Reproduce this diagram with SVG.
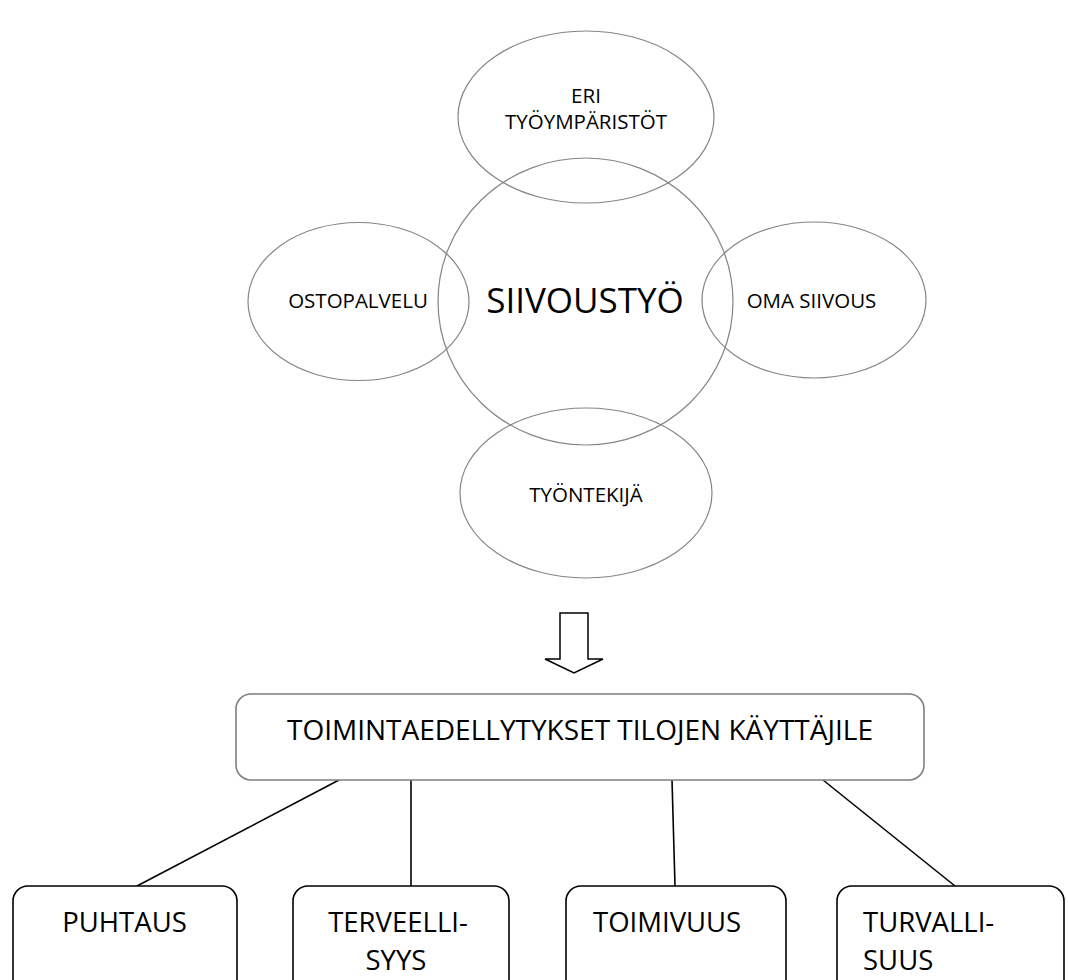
<svg xmlns="http://www.w3.org/2000/svg" width="1068" height="980" viewBox="0 0 1068 980">
<style>
.ell{fill:none;stroke:#858585;stroke-width:1.2}
.t{font-family:"Open Sans","Liberation Sans",sans-serif;fill:#000;text-anchor:middle}
.s{font-size:20.5px}
.b{font-size:27.5px}
.box{fill:#fff;stroke:#000;stroke-width:1.6}
.con{stroke:#000;stroke-width:1.6;fill:none}
</style>
<rect width="1068" height="980" fill="#fff"/>
<g id="eri-tyoymparistot">
<ellipse class="ell" cx="586" cy="117" rx="128" ry="86"/>
<text class="t s" x="586" y="103">ERI</text>
<text class="t s" x="586" y="129">TYÖYMPÄRISTÖT</text>
</g>
<g id="ostopalvelu">
<ellipse class="ell" cx="358.5" cy="301.5" rx="110.5" ry="79"/>
<text class="t s" x="358" y="308">OSTOPALVELU</text>
</g>
<g id="oma-siivous">
<ellipse class="ell" cx="814" cy="300" rx="112" ry="78"/>
<text class="t s" x="811.5" y="308">OMA SIIVOUS</text>
</g>
<g id="tyontekija">
<ellipse class="ell" cx="586" cy="493" rx="126" ry="85"/>
<text class="t s" x="586" y="502">TYÖNTEKIJÄ</text>
</g>
<g id="siivoustyo">
<ellipse class="ell" cx="585.5" cy="301.5" rx="147.5" ry="143.5"/>
<text class="t" x="585" y="313" font-size="35">SIIVOUSTYÖ</text>
</g>
<g id="arrow">
<path d="M560,613 H588 V659 H603 L574,673 L545,659 H560 Z" fill="#fff" stroke="#000" stroke-width="1.5" stroke-linejoin="miter"/>
</g>
<g id="connectors">
<line class="con" x1="339" y1="780" x2="137" y2="886"/>
<line class="con" x1="411" y1="780" x2="411" y2="886"/>
<line class="con" x1="672" y1="780" x2="675" y2="886"/>
<line class="con" x1="823" y1="780" x2="955" y2="886"/>
</g>
<g id="toimintaedellytykset">
<rect x="236" y="694" width="688" height="86" rx="15" fill="#fff" stroke="#7f7f7f" stroke-width="1.6"/>
<text class="t" x="580" y="740" font-size="28">TOIMINTAEDELLYTYKSET TILOJEN KÄYTTÄJILE</text>
</g>
<g id="puhtaus">
<rect class="box" x="13" y="886" width="224" height="110" rx="15"/>
<text class="t b" x="124.5" y="932">PUHTAUS</text>
</g>
<g id="terveellisyys">
<rect class="box" x="293" y="886" width="216" height="110" rx="15"/>
<text class="t b" x="398" y="932">TERVEELLI-</text>
<text class="t b" x="396" y="970">SYYS</text>
</g>
<g id="toimivuus">
<rect class="box" x="566" y="886" width="220" height="110" rx="15"/>
<text class="t b" x="593" y="932" text-anchor="start" style="text-anchor:start">TOIMIVUUS</text>
</g>
<g id="turvallisuus">
<rect class="box" x="837" y="886" width="227" height="110" rx="15"/>
<text class="t b" x="863" y="932" style="text-anchor:start">TURVALLI-</text>
<text class="t b" x="863" y="970" style="text-anchor:start">SUUS</text>
</g>
</svg>
